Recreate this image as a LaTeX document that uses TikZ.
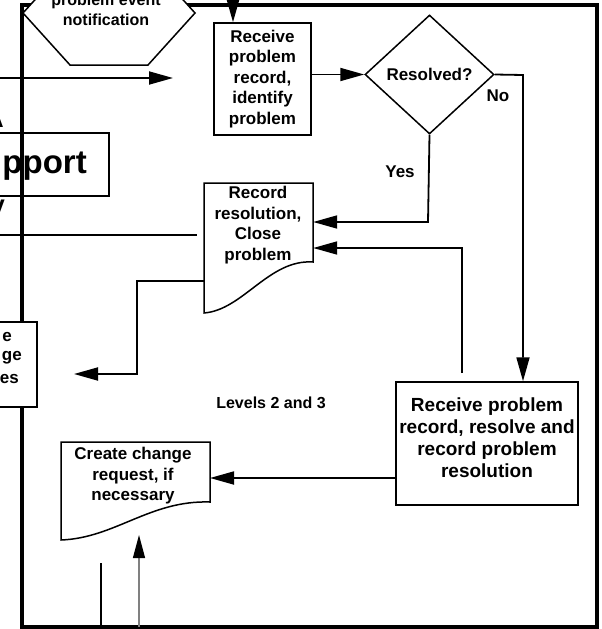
\documentclass[tikz,border=0pt]{standalone}
\usepackage{fontspec}
\setmainfont{Liberation Sans}
\usetikzlibrary{arrows.meta,shapes.geometric}
\begin{document}
\begin{tikzpicture}[x=1pt,y=-1pt,
  every node/.style={inner sep=0pt, align=center, font=\bfseries\fontsize{17}{20.5}\selectfont},
  procbox/.style={draw, line width=1.5pt, fill=white},
  outline/.style={line width=1.5pt, line join=miter},
  flow/.style={line width=1.8pt},
  arr/.style={flow, -{Triangle[length=24pt,width=13pt]}},
  boundary/.style={line width=4pt},
  smalltext/.style={font=\bfseries\fontsize{16}{20}\selectfont},
  bigtext/.style={font=\bfseries\fontsize{33}{33}\selectfont}]
\useasboundingbox (0,0) rectangle (602,629);
\clip (0,0) rectangle (602,629);

% outer frame of the level 2/3 area
\draw[boundary] (22,5) rectangle (597,627);

% partial boxes on the left edge
\node[draw, line width=1.5pt, minimum width=129pt, minimum height=63pt] (supportbox) at (44.5,164.5) {};
\node[bigtext, anchor=base east] (supporttxt) at (87,173) {pport};
\node[font=\bfseries\fontsize{24}{24}\selectfont, anchor=base east] (fragA) at (4,127) {A};
\node[font=\bfseries\fontsize{24}{24}\selectfont, anchor=north east] (fragV) at (5,200) {V};
\node[procbox, minimum width=57pt, minimum height=85pt] (changebox) at (8.5,364.5) {};
\node[anchor=east] (chg1) at (12,337) {e};
\node[anchor=east] (chg2) at (22,358) {ge};
\node[anchor=east] (chg3) at (19,379) {es};

% event notification
\draw[outline, fill=white] (70,-39) -- (148,-39) -- (195,13) -- (148,65) -- (70,65) -- (23,13) -- cycle;
\node[smalltext] (notify) at (106,10) {problem event\\notification};

% process steps
\node[procbox, minimum width=97pt, minimum height=112pt] (identify) at (262.5,79)
  {Receive\\problem\\record,\\identify\\problem};
\node[diamond, draw, line width=1.5pt, minimum width=129pt, minimum height=119pt] (resolved) at (429.5,74.5) {Resolved?};
\node[procbox, minimum width=182pt, minimum height=123pt, text depth=11pt,
  font=\bfseries\fontsize{19}{22}\selectfont] (level23) at (487,443.5)
  {Receive problem\\record, resolve and\\record problem\\resolution};

% documents
\draw[outline, fill=white] (204,183) -- (313,183) -- (313,262)
  .. controls (269,259) and (243,310) .. (204,313) -- cycle;
\node (closedoc) [minimum width=109pt, minimum height=130pt] at (258.5,248) {};
\node (closetxt) at (258,225) {Record\\resolution,\\Close\\problem};

\draw[outline, fill=white] (61,442) -- (210,442) -- (210,502)
  .. controls (150,500) and (115,538) .. (61,540) -- cycle;
\node (crdoc) [minimum width=149pt, minimum height=98pt] at (135.5,491) {};
\node (crtxt) at (133,476) {Create change\\request, if\\necessary};

% labels
\node (nolbl) at (498,96) {No};
\node (yeslbl) at (400,172) {Yes};
\node[smalltext] (levels) at (271,403) {Levels 2 and 3};

% connector bends and free ends
\coordinate (topin) at (233,5);
\coordinate (noturn) at (523,75);
\coordinate (yesturn) at (428,222);
\coordinate (backup) at (462,373);
\coordinate (backturn) at (462,248);
\coordinate (outturn) at (137,281);
\coordinate (outdown) at (137,374);
\coordinate (outend) at (74,374);
\coordinate (feedin) at (-5,78);
\coordinate (feedend) at (173,78);
\coordinate (sidein) at (-5,235);
\coordinate (sideend) at (197,235);
\coordinate (crin) at (210,478);
\coordinate (lowA) at (101,563);
\coordinate (lowAb) at (101,627);
\coordinate (lowB) at (139,627);
\coordinate (lowBt) at (139,535);

% connectors
\draw[arr] (topin) -- (topin |- identify.north);
\draw[arr] (identify.east |- resolved.west) -- (resolved.west);
\draw[arr] (resolved.east) -- (noturn) -- (noturn |- level23.north);
\draw[arr] (resolved.south) -- (yesturn) -- (closedoc.east |- yesturn);
\draw[arr] (backup) -- (backturn) -- (closedoc.east |- backturn);
\draw[arr] (closedoc.west |- outturn) -- (outturn) -- (outdown) -- (outend);
\draw[arr] (level23.west |- crin) -- (crin);
\draw[arr] (feedin) -- (feedend);
\draw[flow] (sidein) -- (sideend);
\draw[flow] (lowA) -- (lowAb);
\draw[line width=1.2pt, draw=gray, -{Triangle[length=23pt,width=12pt,color=black]}] (lowB) -- (lowBt);
\end{tikzpicture}
\end{document}
